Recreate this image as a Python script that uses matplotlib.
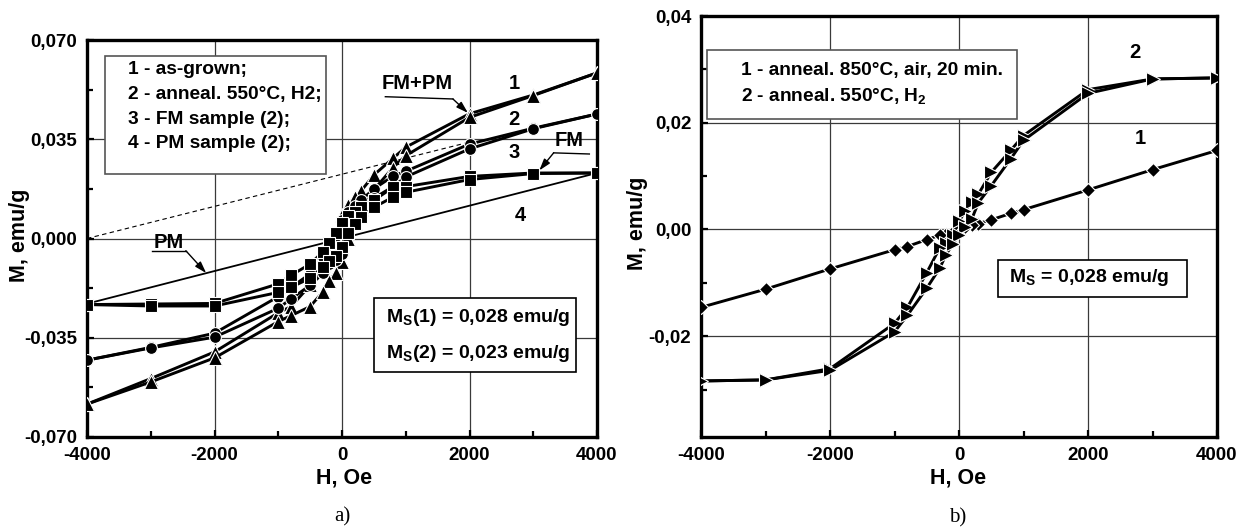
import matplotlib
matplotlib.use("Agg")
import matplotlib.pyplot as plt
from matplotlib.patches import Rectangle
from matplotlib.ticker import FixedLocator, MultipleLocator

# ---------------- data ----------------
H = [4000, 3000, 2000, 1000, 800, 500, 300, 200, 100, 0,
     -100, -200, -300, -500, -800, -1000, -2000, -3000, -4000]

# panel a) curve 1 (as-grown), triangles
a1_up = [0.0584, 0.0506, 0.0440, 0.0322, 0.0283, 0.0224, 0.0168, 0.0145, 0.0118, 0.0082,
         0.0005, -0.0050, -0.0095, -0.0165, -0.0240, -0.0262, -0.0400, -0.0494, -0.0584]
a1_lo = [0.0584, 0.0504, 0.0427, 0.0292, 0.0250, 0.0172, 0.0105, 0.0055, 0.0000, -0.0082,
         -0.0120, -0.0150, -0.0188, -0.0240, -0.0272, -0.0293, -0.0421, -0.0506, -0.0584]
# panel a) curve 2 (anneal 550C H2), circles
a2_up = [0.0439, 0.0389, 0.0333, 0.0237, 0.0220, 0.0175, 0.0135, 0.0115, 0.0095, 0.0065,
         0.0010, -0.0030, -0.0065, -0.0125, -0.0172, -0.0205, -0.0334, -0.0384, -0.0429]
a2_lo = [0.0439, 0.0387, 0.0316, 0.0217, 0.0183, 0.0142, 0.0090, 0.0060, 0.0020, -0.0055,
         -0.0075, -0.0090, -0.0123, -0.0165, -0.0213, -0.0246, -0.0348, -0.0386, -0.0429]
# panel a) curve 3 (FM part), squares
a3_up = [0.0231, 0.0231, 0.0219, 0.0183, 0.0180, 0.0135, 0.0110, 0.0095, 0.0080, 0.0055,
         0.0020, -0.0016, -0.0047, -0.0090, -0.0130, -0.0160, -0.0229, -0.0231, -0.0233]
a3_lo = [0.0231, 0.0229, 0.0208, 0.0163, 0.0146, 0.0110, 0.0075, 0.0050, 0.0020, -0.0030,
         -0.0060, -0.0080, -0.0100, -0.0140, -0.0172, -0.0190, -0.0238, -0.0238, -0.0233]
# panel a) curve 4 (PM part), straight line
a4_H = [-4000, 4000]
a4_M = [-0.0230, 0.0231]
# panel a) dashed guide line (PM slope shifted by Ms)
guide_H = [-4000, 2000]
guide_M = [0.0, 0.0340]

# panel b) curve 1 (anneal 850C air), diamonds
b1 = [0.0148, 0.0112, 0.0074, 0.0037, 0.0030, 0.0018, 0.0011, 0.0008, 0.0004, 0.0000,
      -0.0004, -0.0008, -0.0011, -0.0019, -0.0032, -0.0038, -0.0074, -0.0112, -0.0146]
# panel b) curve 2 (anneal 550C H2), right triangles
b2_up = [0.0284, 0.0282, 0.0262, 0.0176, 0.0148, 0.0107, 0.0066, 0.0052, 0.0035, 0.0015,
         -0.0010, -0.0025, -0.0035, -0.0081, -0.0146, -0.0176, -0.0261, -0.0282, -0.0284]
b2_lo = [0.0284, 0.0282, 0.0255, 0.0167, 0.0132, 0.0082, 0.0050, 0.0020, 0.0005, -0.0010,
         -0.0028, -0.0047, -0.0073, -0.0110, -0.0161, -0.0192, -0.0264, -0.0282, -0.0284]

xticks = [-4000, -2000, 0, 2000, 4000]
xtick_labels = ['-4000', '-2000', '0', '2000', '4000']
a_yticks = [-0.070, -0.035, 0.0, 0.035, 0.070]
a_ytick_labels = ['-0,070', '-0,035', '0,000', '0,035', '0,070']
b_yticks = [-0.02, 0.0, 0.02, 0.04]
b_ytick_labels = ['-0,02', '0,00', '0,02', '0,04']

a_legend = ['1 - as-grown;', '2 - anneal. 550°C, H2;', '3 - FM sample (2);', '4 - PM sample (2);']
b_legend = ['1 - anneal. 850°C, air, 20 min.', r'2 - anneal. 550°C, H$_\mathrm{2}$']

# ---------------- style ----------------
plt.rcParams['font.family'] = ['Liberation Sans', 'DejaVu Sans']
plt.rcParams['font.weight'] = 'bold'
plt.rcParams['mathtext.fontset'] = 'custom'
plt.rcParams['mathtext.rm'] = 'Liberation Sans:bold'
plt.rcParams['mathtext.it'] = 'Liberation Sans:bold'
plt.rcParams['mathtext.bf'] = 'Liberation Sans:bold'

W, Hpx = 1245, 530
fig = plt.figure(figsize=(W / 100, Hpx / 100), dpi=100)


def fx(px):
    return px / W


def fy(py):
    return 1 - py / Hpx


axA = fig.add_axes([fx(87), fy(437), fx(597) - fx(87), fy(40) - fy(437)])
axB = fig.add_axes([fx(701), fy(437), fx(1217) - fx(701), fy(16) - fy(437)])

TICK_FS = 13.5


def style_axes(ax, yticks, ylabels, yminor):
    ax.set_xlim(-4000, 4000)
    ax.xaxis.set_major_locator(FixedLocator(xticks))
    ax.set_xticklabels(xtick_labels, fontsize=TICK_FS, fontweight='bold')
    ax.xaxis.set_minor_locator(MultipleLocator(1000))
    ax.yaxis.set_major_locator(FixedLocator(yticks))
    ax.set_yticklabels(ylabels, fontsize=TICK_FS, fontweight='bold')
    ax.yaxis.set_minor_locator(MultipleLocator(yminor))
    ax.tick_params(which='both', direction='in', width=1.6, pad=7)
    ax.tick_params(which='major', length=5)
    ax.tick_params(which='minor', length=4)
    ax.grid(True, which='major', color='#3a3a3a', lw=0.9)
    ax.set_axisbelow(True)
    for s in ax.spines.values():
        s.set_linewidth(2.4)


line_kw = dict(color='black', lw=2.1, mec='white', mew=0.8, mfc='black', zorder=3)

# ---------------- panel a ----------------
axA.set_ylim(-0.070, 0.070)
style_axes(axA, a_yticks, a_ytick_labels, 0.0175)

axA.plot(guide_H, guide_M, color='black', lw=0.8, ls=(0, (4, 3)), zorder=2)
axA.plot(a4_H, a4_M, color='black', lw=1.3, zorder=2)
for up, lo, mk, ms in [(a1_up, a1_lo, '^', 10), (a2_up, a2_lo, 'o', 8.5), (a3_up, a3_lo, 's', 8)]:
    axA.plot(H, up, marker=mk, ms=ms, **line_kw)
    axA.plot(H, lo, marker=mk, ms=ms, **line_kw)

LFS = 14.5
axA.text(2700, 0.0545, '1', fontsize=LFS, ha='center', va='center', fontweight='bold')
axA.text(2700, 0.0418, '2', fontsize=LFS, ha='center', va='center', fontweight='bold')
axA.text(2700, 0.0302, '3', fontsize=LFS, ha='center', va='center', fontweight='bold')
axA.text(2790, 0.0082, '4', fontsize=LFS, ha='center', va='center', fontweight='bold')
axA.text(1180, 0.0545, 'FM+PM', fontsize=LFS, ha='center', va='center', fontweight='bold')
axA.text(3560, 0.0345, 'FM', fontsize=LFS, ha='center', va='center', fontweight='bold')
axA.text(-2720, -0.0013, 'PM', fontsize=LFS, ha='center', va='center', fontweight='bold')

arrow_kw = dict(arrowstyle='-|>,head_length=0.7,head_width=0.22', color='black', lw=1.0,
                shrinkA=0, shrinkB=0)
# FM+PM leader
axA.plot([680, 1740], [0.0500, 0.0492], color='black', lw=1.0, zorder=4)
axA.annotate('', xy=(1975, 0.0443), xytext=(1740, 0.0492), arrowprops=arrow_kw, zorder=4)
# FM leader
axA.plot([3880, 3320], [0.0298, 0.0302], color='black', lw=1.0, zorder=4)
axA.annotate('', xy=(3095, 0.0240), xytext=(3320, 0.0302), arrowprops=arrow_kw, zorder=4)
# PM leader
axA.plot([-2980, -2450], [-0.0043, -0.0043], color='black', lw=1.0, zorder=4)
axA.annotate('', xy=(-2130, -0.0122), xytext=(-2450, -0.0043), arrowprops=arrow_kw, zorder=4)

# legend box a
fig.patches.append(Rectangle((fx(105), fy(174)), fx(326) - fx(105), fy(56) - fy(174),
                             transform=fig.transFigure, fill=True, fc='white', ec='#555555',
                             lw=1.2, zorder=5))
for i, t in enumerate(a_legend):
    fig.text(fx(128), fy([70, 94.5, 119, 144][i]), t, fontsize=13.8, fontweight='bold',
             ha='left', va='center', zorder=6)

# Ms box a
fig.patches.append(Rectangle((fx(374), fy(372)), fx(576) - fx(374), fy(298) - fy(372),
                             transform=fig.transFigure, fill=True, fc='white', ec='black',
                             lw=1.2, zorder=5))
fig.text(fx(386), fy(317), r'M$_\mathrm{S}$(1) = 0,028 emu/g', fontsize=14, ha='left',
         va='center', fontweight='bold', zorder=6)
fig.text(fx(386), fy(353), r'M$_\mathrm{S}$(2) = 0,023 emu/g', fontsize=14, ha='left',
         va='center', fontweight='bold', zorder=6)

# ---------------- panel b ----------------
axB.set_ylim(-0.0389, 0.040)
style_axes(axB, b_yticks, b_ytick_labels, 0.01)

axB.plot(H, b1, marker='D', ms=7.5, **line_kw)
axB.plot(H, b2_up, marker='>', ms=10, **line_kw)
axB.plot(H, b2_lo, marker='>', ms=10, **line_kw)

axB.text(2720, 0.0331, '2', fontsize=LFS, ha='center', va='center', fontweight='bold')
axB.text(2810, 0.0170, '1', fontsize=LFS, ha='center', va='center', fontweight='bold')

fig.patches.append(Rectangle((fx(707), fy(119)), fx(1017) - fx(707), fy(50) - fy(119),
                             transform=fig.transFigure, fill=True, fc='white', ec='#555555',
                             lw=1.2, zorder=5))
fig.text(fx(741), fy(71), b_legend[0], fontsize=13.8, fontweight='bold', ha='left',
         va='center', zorder=6)
fig.text(fx(741), fy(96), b_legend[1], fontsize=13.8, fontweight='bold', ha='left',
         va='center', zorder=6)

fig.patches.append(Rectangle((fx(998), fy(297)), fx(1187) - fx(998), fy(260) - fy(297),
                             transform=fig.transFigure, fill=True, fc='white', ec='black',
                             lw=1.2, zorder=5))
fig.text(fx(1009), fy(278), r'M$_\mathrm{S}$ = 0,028 emu/g', fontsize=14, ha='left',
         va='center', fontweight='bold', zorder=6)

# ---------------- axis labels & captions ----------------
fig.text(fx(20), fy(235), 'M, emu/g', rotation=90, fontsize=15.5, fontweight='bold',
         ha='center', va='center')
fig.text(fx(637), fy(223), 'M, emu/g', rotation=90, fontsize=15.5, fontweight='bold',
         ha='center', va='center')
fig.text(fx(344), fy(478), 'H, Oe', fontsize=15.5, fontweight='bold', ha='center', va='center')
fig.text(fx(958), fy(478), 'H, Oe', fontsize=15.5, fontweight='bold', ha='center', va='center')
fig.text(fx(342), fy(517), 'a)', fontsize=15, fontweight='normal', ha='center', va='center',
         family=['Liberation Serif', 'DejaVu Serif'])
fig.text(fx(958), fy(518), 'b)', fontsize=15, fontweight='normal', ha='center', va='center',
         family=['Liberation Serif', 'DejaVu Serif'])

fig.savefig('out.png', dpi=100)
